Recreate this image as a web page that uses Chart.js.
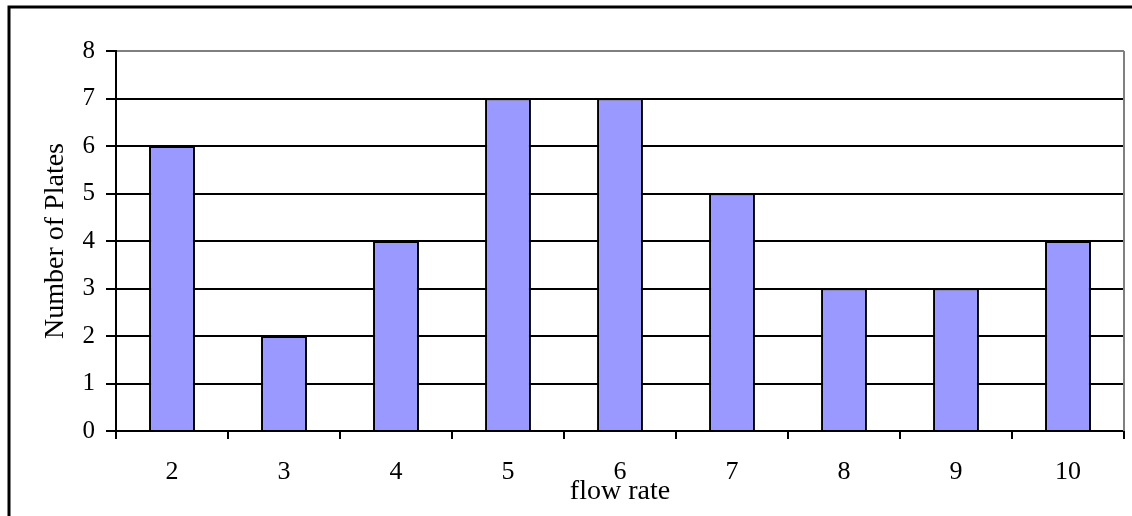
<!DOCTYPE html>
<html>
<head>
<meta charset="utf-8">
<script src="https://cdn.jsdelivr.net/npm/chart.js@4/dist/chart.umd.min.js"></script>
<style>
  html, body { margin: 0; padding: 0; background: #fff; }
  #wrap { width: 1132px; height: 516px; position: relative; }
</style>
</head>
<body>
<div id="wrap"><canvas id="plates"></canvas></div>
<script>
var flowRates = ["2", "3", "4", "5", "6", "7", "8", "9", "10"];
var plateCounts = [6, 2, 4, 7, 7, 5, 3, 3, 4];
var yMin = 0;
var yMax = 8;

var serif = "'Liberation Serif', 'Times New Roman', serif";

// outer frame (cut off on the right and bottom like the original) + grey right edge of plot
var framePlugin = {
  id: "frame",
  beforeDraw: function(chart) {
    var ctx = chart.ctx;
    ctx.save();
    ctx.fillStyle = "#fff";
    ctx.fillRect(0, 0, chart.width, chart.height);
    ctx.strokeStyle = "#000";
    ctx.lineWidth = 3;
    ctx.strokeRect(9, 7, chart.width + 20, chart.height + 20);
    ctx.restore();
  },
  afterDraw: function(chart) {
    var a = chart.chartArea;
    var ctx = chart.ctx;
    ctx.save();
    ctx.strokeStyle = "#808080";
    ctx.lineWidth = 2;
    ctx.beginPath();
    ctx.moveTo(a.right, a.top);
    ctx.lineTo(a.right, a.bottom);
    ctx.stroke();
    ctx.restore();
  }
};

new Chart(document.getElementById("plates"), {
  type: "bar",
  data: {
    labels: flowRates,
    datasets: [{
      data: plateCounts,
      backgroundColor: "#9999ff",
      borderColor: "#000",
      borderWidth: 2,
      barPercentage: 0.41,
      categoryPercentage: 1
    }]
  },
  options: {
    responsive: true,
    maintainAspectRatio: false,
    animation: false,
    layout: { padding: { top: 51, right: 8, bottom: 8, left: 39 } },
    plugins: {
      legend: { display: false },
      tooltip: { enabled: false }
    },
    scales: {
      x: {
        grid: {
          display: true,
          drawOnChartArea: false,
          color: "#000",
          lineWidth: 2,
          tickLength: 8,
          offset: true
        },
        border: { color: "#000", width: 2 },
        ticks: {
          color: "#000",
          padding: 18,
          font: { family: serif, size: 26 }
        },
        title: {
          display: true,
          text: "flow rate",
          color: "#000",
          padding: { top: 0, bottom: 0 },
          font: { family: serif, size: 28 }
        },
        afterFit: function(s) { s.height = 77; }
      },
      y: {
        min: yMin,
        max: yMax,
        grid: {
          color: function(c) { return c.tick && c.tick.value === yMax ? "#808080" : "#000"; },
          tickColor: "#000",
          lineWidth: 2,
          tickLength: 10
        },
        border: { color: "#000", width: 2 },
        ticks: {
          stepSize: 1,
          color: "#000",
          padding: 11,
          font: { family: serif, size: 25 }
        },
        title: {
          display: true,
          text: "Number of Plates",
          color: "#000",
          padding: { top: 0, bottom: 0 },
          font: { family: serif, size: 28 }
        },
        afterFit: function(s) { s.width = 116 - 39; }
      }
    }
  },
  plugins: [framePlugin]
});
</script>
</body>
</html>
